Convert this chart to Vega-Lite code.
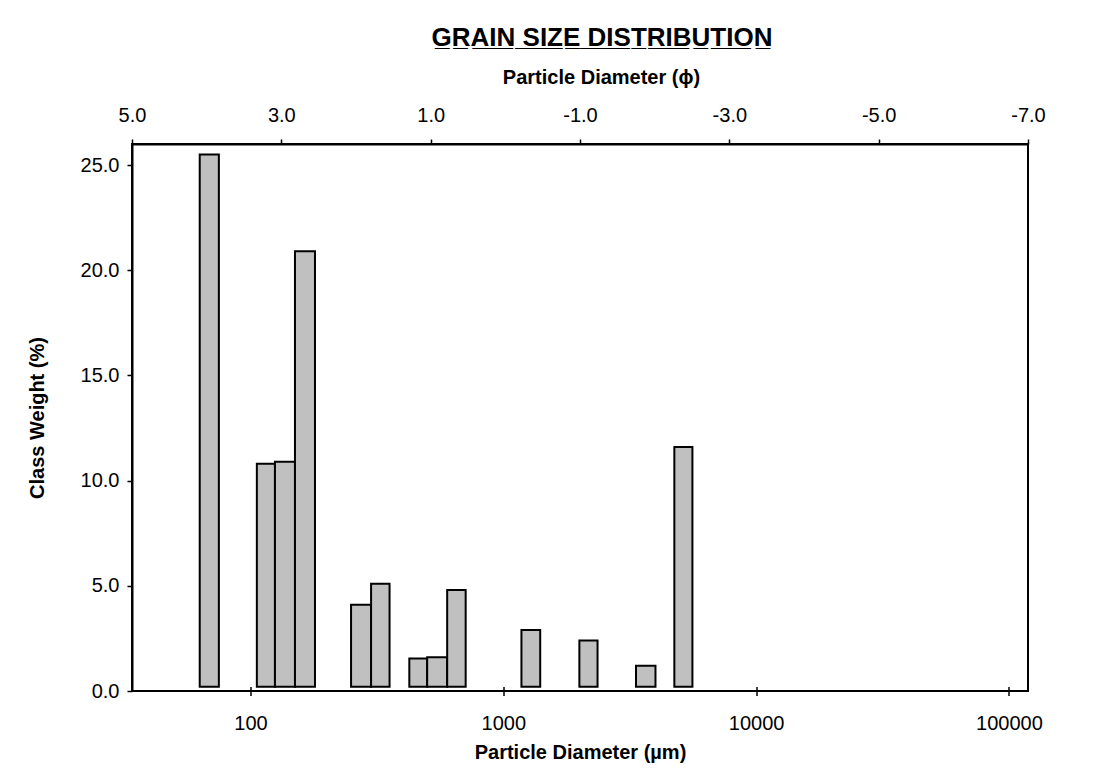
{
  "$schema": "https://vega.github.io/schema/vega-lite/v6.json",
  "autosize": "none",
  "width": 896,
  "height": 547,
  "padding": {"left": 132, "top": 144, "right": 68, "bottom": 86},
  "background": "white",
  "title": {
    "text": "G̲R̲A̲I̲N̲ ̲S̲I̲Z̲E̲ ̲D̲I̲S̲T̲R̲I̲B̲U̲T̲I̲O̲N̲",
    "font": "Liberation Sans",
    "fontSize": 26,
    "fontWeight": "bold",
    "color": "black",
    "anchor": "middle",
    "dx": 22,
    "offset": 16
  },
  "config": {
    "view": {"stroke": "black", "strokeWidth": 2},
    "axis": {
      "labelFont": "Liberation Sans",
      "labelFontSize": 20,
      "labelColor": "black",
      "labelFlush": false,
      "titleFont": "Liberation Sans",
      "titleFontSize": 20,
      "titleFontWeight": "bold",
      "titleColor": "black",
      "domainColor": "black",
      "domainWidth": 2,
      "tickColor": "black",
      "tickWidth": 1.5,
      "tickSize": 5,
      "grid": false
    }
  },
  "layer": [
    {
      "data": {
        "values": [
          {"lo": 63, "hi": 75, "weight": 25.5},
          {"lo": 106, "hi": 125, "weight": 10.8},
          {"lo": 125, "hi": 150, "weight": 10.9},
          {"lo": 150, "hi": 180, "weight": 20.9},
          {"lo": 250, "hi": 300, "weight": 4.1},
          {"lo": 300, "hi": 355, "weight": 5.1},
          {"lo": 425, "hi": 500, "weight": 1.55},
          {"lo": 500, "hi": 600, "weight": 1.6},
          {"lo": 600, "hi": 710, "weight": 4.8},
          {"lo": 1180, "hi": 1400, "weight": 2.9},
          {"lo": 2000, "hi": 2360, "weight": 2.4},
          {"lo": 3350, "hi": 4000, "weight": 1.2},
          {"lo": 4750, "hi": 5600, "weight": 11.6}
        ]
      },
      "mark": {"type": "rect", "fill": "#C0C0C0", "stroke": "black", "strokeWidth": 2},
      "encoding": {
        "x": {
          "field": "lo",
          "type": "quantitative",
          "scale": {"type": "log", "domain": [34, 119000], "nice": false, "zero": false},
          "axis": {
            "orient": "bottom",
            "values": [100, 1000, 10000, 100000],
            "format": "d",
            "domain": false,
            "translate": -4,
            "tickSize": 9,
            "tickOffset": 4.5,
            "labelPadding": 17.5,
            "title": "Particle Diameter (µm)",
            "titlePadding": 9,
            "titleX": 452.5
          }
        },
        "x2": {"field": "hi"},
        "y": {
          "field": "weight",
          "type": "quantitative",
          "scale": {"domain": [0, 26], "nice": false, "zero": true},
          "axis": {
            "values": [0, 5, 10, 15, 20, 25],
            "format": ".1f",
            "labelPadding": 8,
            "title": "Class Weight (%)",
            "titlePadding": 33
          }
        },
        "y2": {"datum": 0.2}
      }
    },
    {
      "data": {"values": [{"phi": 5}, {"phi": -7}]},
      "mark": {"type": "rule", "opacity": 0},
      "encoding": {
        "x": {
          "field": "phi",
          "type": "quantitative",
          "scale": {"domain": [5, -7], "nice": false, "zero": false},
          "axis": {
            "orient": "top",
            "values": [5, 3, 1, -1, -3, -5, -7],
            "format": ".1f",
            "labelExpr": "replace(datum.label, '−', '-')",
            "labelPadding": 14,
            "title": "Particle Diameter (ϕ)",
            "titlePadding": 18,
            "titleX": 469
          }
        }
      }
    }
  ],
  "resolve": {"scale": {"x": "independent"}, "axis": {"x": "independent"}}
}
